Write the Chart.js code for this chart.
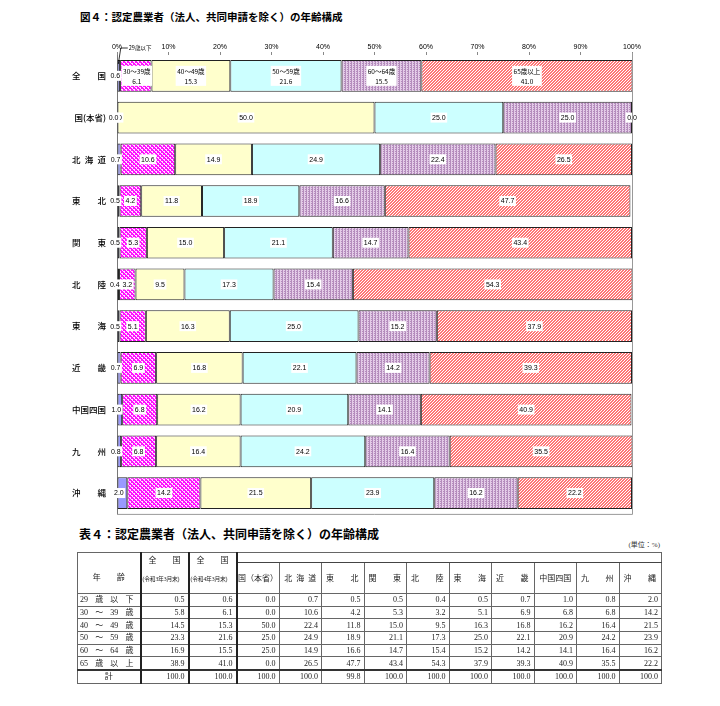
<!DOCTYPE html>
<html lang="ja">
<head>
<meta charset="utf-8">
<script src="https://cdn.jsdelivr.net/npm/chart.js@4.4.1/dist/chart.umd.min.js"></script>
<style>
body { margin:0; background:#fff; width:720px; height:706px; position:relative; overflow:hidden; font-family:"Noto Sans CJK JP", sans-serif; color:#000; }
#title1 { position:absolute; left:80px; top:12px; font-size:10.5px; line-height:1; font-weight:600; }
#chartBox { position:absolute; left:0; top:0; width:720px; height:522px; }
#title2 { position:absolute; left:79px; top:528px; font-size:12px; line-height:1; font-weight:700; }
#unit { position:absolute; right:60px; top:542px; font-size:7px; line-height:1; font-family:"Liberation Serif","Noto Sans CJK JP",serif; color:#333; }
#tbl { position:absolute; left:77px; top:552px; width:585px; border-collapse:collapse; table-layout:fixed; will-change:transform;
       font-family:"Liberation Serif","Noto Sans CJK JP",serif; font-size:8px; color:#222; border:1.5px solid #111; }
#tbl td { border:1px solid #666; padding:0 3px 0 3px; line-height:9px; text-align:right; white-space:nowrap; overflow:hidden; }
#tbl tr.d td { height:11.7px; }
#tbl td.age { padding:0 6px 0 2px; }
#tbl td.first { border-right:2px solid #222; }
#tbl td.z1 { border-right:2px solid #222; }
#tbl tr.sum td { border-top:2px solid #333; }
.sp { display:flex; justify-content:space-between; }
.ctr { display:flex; justify-content:center; }
.sm { font-size:5.8px; letter-spacing:-0.2px; }
</style>
</head>
<body>
<div id="title1">図４：認定農業者（法人、共同申請を除く）の年齢構成</div>
<div id="chartBox"><canvas id="ageChart"></canvas></div>
<div id="title2">表４：認定農業者（法人、共同申請を除く）の年齢構成</div>
<div id="unit">(単位：%)</div>
<table id="tbl"></table>
<script>
// ---------- data ----------
var categories = ['全国', '国(本省)', '北海道', '東北', '関東', '北陸', '東海', '近畿', '中国四国', '九州', '沖縄'];
var ageGroups = ['29歳以下', '30～39歳', '40～49歳', '50～59歳', '60～64歳', '65歳以上'];

var age29 = [0.6, 0.0, 0.7, 0.5, 0.5, 0.4, 0.5, 0.7, 1.0, 0.8, 2.0];
var age30 = [6.1, 0.0, 10.6, 4.2, 5.3, 3.2, 5.1, 6.9, 6.8, 6.8, 14.2];
var age40 = [15.3, 50.0, 14.9, 11.8, 15.0, 9.5, 16.3, 16.8, 16.2, 16.4, 21.5];
var age50 = [21.6, 25.0, 24.9, 18.9, 21.1, 17.3, 25.0, 22.1, 20.9, 24.2, 23.9];
var age60 = [15.5, 25.0, 22.4, 16.6, 14.7, 15.4, 15.2, 14.2, 14.1, 16.4, 16.2];
var age65 = [41.0, 0.0, 26.5, 47.7, 43.4, 54.3, 37.9, 39.3, 40.9, 35.5, 22.2];

// table only
var zenkokuR3 = [0.5, 5.8, 14.5, 23.3, 16.9, 38.9];       // 令和3年3月末
var zenkokuR3Total = 100.0;
var hokkaidoTable = [0.7, 10.6, 22.4, 24.9, 14.9, 26.5];  // table column differs from chart
var totals = [100.0, 100.0, 100.0, 99.8, 100.0, 100.0, 100.0, 100.0, 100.0, 100.0, 100.0];
var tableAgeLabels = ['29 歳 以 下', '30 ～ 39 歳', '40 ～ 49 歳', '50 ～ 59 歳', '60 ～ 64 歳', '65 歳 以 上'];

var series = [age29, age30, age40, age50, age60, age65];

// ---------- patterns ----------
function makePattern(w, h, bg, fg, test) {
    var c = document.createElement('canvas');
    c.width = w; c.height = h;
    var g = c.getContext('2d');
    g.fillStyle = bg;
    g.fillRect(0, 0, w, h);
    g.fillStyle = fg;
    for (var x = 0; x < w; x++) {
        for (var y = 0; y < h; y++) {
            if (test(x, y)) g.fillRect(x, y, 1, 1);
        }
    }
    return g.createPattern(c, 'repeat');
}

var fills = [
    '#9999ff',
    makePattern(4, 4, '#ff11ff', '#ffe0ff', function (x, y) { var d = (x - y + 4) % 4; return d == 0 || (d == 1 && x % 2 == 0); }),
    '#ffffcc',
    '#ccffff',
    makePattern(3, 2, '#e4cce8', '#b48cbc', function (x, y) { return x == 0 || (x == 2 && y == 1); }),
    makePattern(3, 3, '#ff7676', '#ffffff', function (x, y) { return (x + y) % 3 == 0; }),
];

function chartLabel(name) {
    if (name.length == 2) return name[0] + '\u3000\u3000' + name[1];
    if (name.length == 3 && name.indexOf('(') < 0) return name[0] + '\u2002' + name[1] + '\u2002' + name[2];
    return name;
}

// ---------- labels plugin ----------
var labelFont = '7px "Liberation Sans", "Noto Sans CJK JP", sans-serif';

function drawBoxLabel(ctx, lines, cx, cy) {
    var lh = 10;
    var w = Math.max.apply(null, lines.map(function (t) { return ctx.measureText(t).width; })) + 3;
    var h = lines.length * lh;
    ctx.fillStyle = '#fff';
    ctx.fillRect(cx - w / 2, cy - h / 2, w, h);
    ctx.fillStyle = '#000';
    lines.forEach(function (t, k) {
        ctx.fillText(t, cx, cy - h / 2 + lh / 2 + k * lh + 0.5);
    });
}

var segLabels = {
    id: 'segLabels',
    afterDatasetsDraw: function (chart) {
        var ctx = chart.ctx;
        ctx.save();
        ctx.textAlign = 'center';
        ctx.textBaseline = 'middle';
        // later groups first so the small first-group labels stay on top
        for (var di = chart.data.datasets.length - 1; di >= 0; di--) {
            var ds = chart.data.datasets[di];
            var meta = chart.getDatasetMeta(di);
            meta.data.forEach(function (bar, i) {
                var cx = (bar.x + bar.base) / 2;
                var val = ds.data[i].toFixed(1);
                if (i == 0 && di > 0) {
                    ctx.font = '6.5px "Noto Sans CJK JP", sans-serif';
                    drawBoxLabel(ctx, [ds.label, val], di == 1 ? cx + 1 : cx, bar.y);
                } else {
                    ctx.font = labelFont;
                    drawBoxLabel(ctx, [val], di == 0 ? cx - 3.5 : cx, bar.y);
                }
            });
        }

        // leader label for the first age group
        var b0 = chart.getDatasetMeta(0).data[0];
        var lx = (b0.x + b0.base) / 2;
        var top = b0.y - b0.height / 2;
        var ly = chart.chartArea.top - 7;
        ctx.strokeStyle = '#000';
        ctx.lineWidth = 0.8;
        ctx.beginPath();
        ctx.moveTo(lx - 0.5, top + 4);
        ctx.lineTo(lx + 2, ly);
        ctx.lineTo(lx + 9, ly);
        ctx.stroke();
        ctx.font = '5.5px "Noto Sans CJK JP", sans-serif';
        ctx.textAlign = 'left';
        ctx.fillText(ageGroups[0], lx + 10, ly);
        ctx.restore();
    },
    afterDraw: function (chart) {
        var a = chart.chartArea;
        var ctx = chart.ctx;
        ctx.save();
        ctx.strokeStyle = '#999';
        ctx.lineWidth = 1;
        ctx.beginPath();
        ctx.moveTo(a.right + 0.5, a.top - 2);
        ctx.lineTo(a.right + 0.5, a.bottom + 0.5);
        ctx.lineTo(a.left, a.bottom + 0.5);
        ctx.stroke();
        ctx.restore();
    }
};

// ---------- chart ----------
var chartInfo = {
    labels: categories,
    datasets: ageGroups.map(function (name, i) {
        return {
            label: name,
            data: series[i],
            backgroundColor: fills[i],
            borderColor: '#222',
            borderWidth: 1,
            borderSkipped: false,
            barPercentage: 0.76,
            categoryPercentage: 1.0,
        };
    })
};

var options = {
    indexAxis: 'y',
    responsive: true,
    maintainAspectRatio: false,
    animation: false,
    layout: {
        padding: { top: 41, right: 88, bottom: 5, left: 0 },
    },
    plugins: {
        legend: { display: false },
        tooltip: { enabled: false },
    },
    scales: {
        x: {
            position: 'top',
            stacked: true,
            min: 0,
            max: 100,
            ticks: {
                stepSize: 10,
                autoSkip: false,
                maxRotation: 0,
                padding: 1,
                color: '#000',
                font: { size: 7, family: '"Liberation Sans", sans-serif' },
                callback: function (v) { return v + '%'; },
            },
            grid: { drawOnChartArea: false, tickLength: 3, color: '#888' },
            border: { display: false },
            afterFit: function (s) { s.height = 14; },
        },
        y: {
            stacked: true,
            ticks: {
                padding: 3,
                color: '#000',
                font: { size: 8.5, weight: '500', family: '"Noto Sans CJK JP", sans-serif' },
                callback: function (v, i) { return chartLabel(categories[i]); },
            },
            grid: { display: false },
            border: { display: true, color: '#777' },
            afterFit: function (s) { s.width = 117; },
        },
    },
};

var ctx = document.getElementById('ageChart').getContext('2d');
var myChart = new Chart(ctx, { type: 'bar', data: chartInfo, options: options, plugins: [segLabels] });

// ---------- table ----------
function spread(text) {
    var parts = text.split(' ');
    return '<div class="sp">' + parts.map(function (p) { return '<span>' + p + '</span>'; }).join('') + '</div>';
}
function headName(name) {
    if (name.length == 2) return '<div class="sp" style="padding:0 2px 0 1px">' + '<span>' + name[0] + '</span><span>' + name[1] + '</span></div>';
    if (name == '北海道') return '<div class="ctr">北&ensp;海&ensp;道</div>';
    if (name == '国(本省)') return '<div class="ctr">国（本省）</div>';
    return '<div class="ctr">' + name + '</div>';
}

var regions = categories.slice(1);
var html = '<colgroup><col style="width:63px"><col style="width:48px"><col style="width:48px">';
for (var c = 0; c < regions.length; c++) html += '<col>';
html += '</colgroup>';

html += '<tr style="height:10px">' +
    '<td rowspan="2" class="first" style="vertical-align:middle;padding-top:9px"><div class="ctr">年&emsp;&emsp;齢</div></td>' +
    '<td rowspan="2" class="z1" style="text-align:left;vertical-align:top;padding:3px 1px 0 1px"><div style="padding-left:6px;height:19px">全&emsp;&emsp;国</div><div class="sm">(令和3年3月末)</div></td>' +
    '<td rowspan="2" class="z1" style="text-align:left;vertical-align:top;padding:3px 1px 0 1px"><div style="padding-left:6px;height:19px">全&emsp;&emsp;国</div><div class="sm">(令和4年3月末)</div></td>' +
    '<td colspan="' + regions.length + '" style="border-bottom:1px solid #444"></td></tr>';
html += '<tr style="height:31px">' + regions.map(function (r) {
    return '<td style="text-align:left">' + headName(r) + '</td>';
}).join('') + '</tr>';

for (var r = 0; r < tableAgeLabels.length; r++) {
    html += '<tr class="d"' + (r == 0 ? ' style="border-top:1.5px solid #333"' : '') + '>';
    html += '<td class="age first">' + spread(tableAgeLabels[r]) + '</td>';
    html += '<td class="z1">' + zenkokuR3[r].toFixed(1) + '</td>';
    for (var k = 0; k < categories.length; k++) {
        var v = (categories[k] == '北海道') ? hokkaidoTable[r] : series[r][k];
        html += '<td' + (k == 0 ? ' class="z1"' : '') + '>' + v.toFixed(1) + '</td>';
    }
    html += '</tr>';
}
html += '<tr class="d sum"><td class="first"><div class="ctr">計</div></td><td class="z1">' + zenkokuR3Total.toFixed(1) + '</td>';
for (var k = 0; k < totals.length; k++) {
    html += '<td' + (k == 0 ? ' class="z1"' : '') + '>' + totals[k].toFixed(1) + '</td>';
}
html += '</tr>';
document.getElementById('tbl').innerHTML = html;
</script>
</body>
</html>
